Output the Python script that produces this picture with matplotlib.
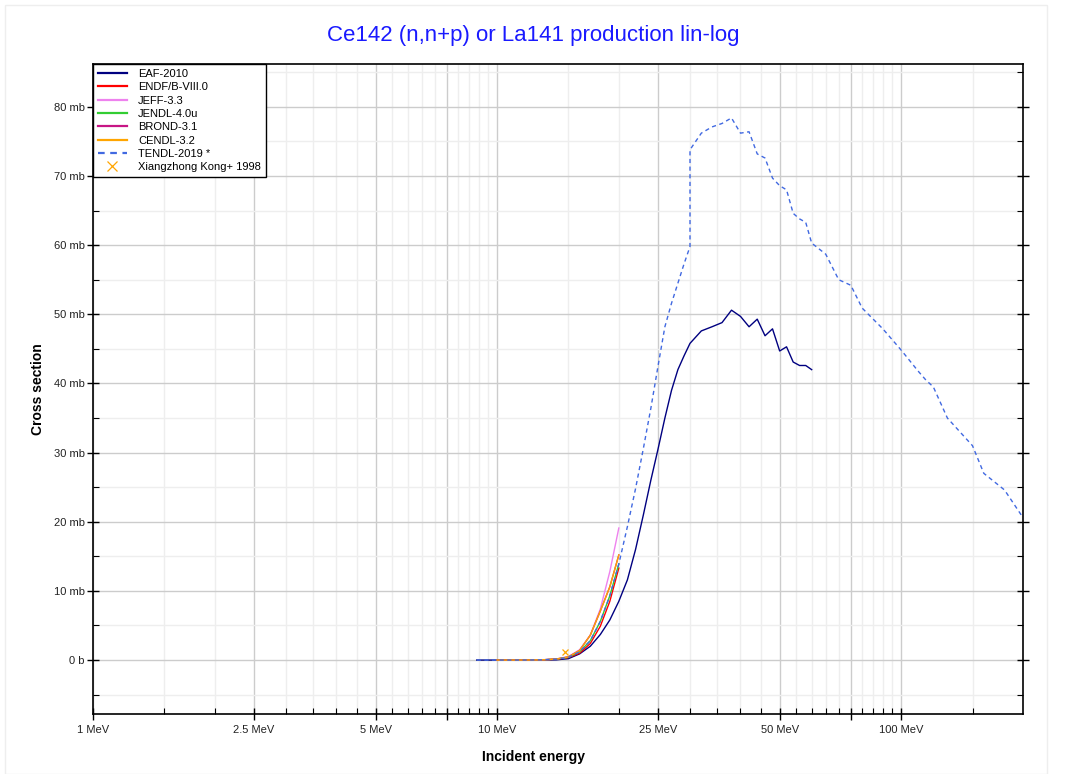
import matplotlib
matplotlib.use("Agg")
import matplotlib.pyplot as plt
from matplotlib.ticker import FixedLocator, FixedFormatter
from matplotlib.patches import Rectangle

plt.rcParams['font.family'] = ['Liberation Sans', 'DejaVu Sans']

# ---- data (energy in MeV, cross section in mb) ----
eaf_e = [8.9, 10, 11, 12, 13, 14, 15, 16, 17, 18, 19, 20, 21, 22, 23, 24, 25, 26, 27, 28, 29, 30,
         32, 34, 36, 38, 40, 42, 44, 46, 48, 50, 52, 54, 56, 58, 60]
eaf_xs = [0, 0, 0, 0, 0.005, 0.03, 0.2, 0.9, 2.0, 3.7, 5.8, 8.5, 11.6, 16.0, 21.0, 26.0, 30.5, 35.0,
          39.0, 42.0, 44.0, 45.8, 47.6, 48.2, 48.8, 50.6, 49.7, 48.2, 49.3, 46.9, 47.9, 44.7, 45.3,
          43.1, 42.6, 42.6, 42.0]

endf_e = [10, 11, 12, 13, 14, 15, 16, 17, 18, 19, 20]
endf_xs = [0, 0, 0.01, 0.03, 0.12, 0.35, 1.0, 2.4, 4.9, 8.5, 13.3]

jeff_e = [10, 11, 12, 13, 14, 15, 16, 17, 18, 19, 20]
jeff_xs = [0, 0, 0.01, 0.05, 0.15, 0.5, 1.5, 3.6, 7.4, 12.8, 19.1]

jendl_e = [10, 11, 12, 13, 14, 15, 16, 17, 18, 19, 20]
jendl_xs = [0, 0, 0.01, 0.04, 0.13, 0.4, 1.2, 2.8, 5.6, 9.3, 13.9]

brond_e = [10, 11, 12, 13, 14, 15, 16, 17, 18, 19, 20]
brond_xs = [0, 0, 0.01, 0.04, 0.15, 0.45, 1.4, 3.6, 7.1, 10.6, 15.2]

cendl_e = [10, 11, 12, 13, 14, 15, 16, 17, 18, 19, 20]
cendl_xs = [0, 0, 0.01, 0.04, 0.15, 0.45, 1.4, 3.6, 7.1, 10.6, 15.2]

tendl_e = [8.9, 10, 11, 12, 13, 14, 15, 16, 17, 18, 19, 20, 21, 22, 23, 24, 25, 26, 27, 28, 29, 30,
           30, 32, 34, 36, 38, 40, 42, 44, 46, 48, 50, 52, 54, 56, 58, 60, 65, 70, 75, 80, 90, 100,
           110, 115, 120, 130, 150, 160, 180, 200]
tendl_xs = [0, 0, 0, 0.01, 0.04, 0.13, 0.4, 1.2, 2.8, 5.6, 9.3, 13.9, 19.3, 24.8, 30.6, 36.4, 42.5,
            48.2, 51.6, 54.5, 57.3, 59.8, 73.8, 76.2, 77.1, 77.6, 78.4, 76.2, 76.4, 73.2, 72.6, 69.7,
            68.6, 68.0, 64.6, 63.8, 63.3, 60.3, 58.7, 55.0, 54.2, 50.9, 47.9, 44.8, 41.8, 40.5, 39.5,
            35.0, 31.0, 27.0, 24.6, 20.6]

exp_e = [14.7]
exp_xs = [1.2]

x_major = [1, 2.5, 5, 7.5, 10, 25, 50, 75, 100]
x_major_labels = ['1 MeV', '2.5 MeV', '5 MeV', '', '10 MeV', '25 MeV', '50 MeV', '', '100 MeV']
x_minor = [1.5, 2, 3, 3.5, 4, 4.5, 5.5, 6, 6.5, 7, 8, 8.5, 9, 9.5, 15, 20, 30, 35, 40, 45,
           55, 60, 65, 70, 80, 85, 90, 95, 150]
y_major = [0, 10, 20, 30, 40, 50, 60, 70, 80]
y_major_labels = ['0 b', '10 mb', '20 mb', '30 mb', '40 mb', '50 mb', '60 mb', '70 mb', '80 mb']
y_minor = [-5, 5, 15, 25, 35, 45, 55, 65, 75, 85]

fig = plt.figure(figsize=(10.67, 7.74), dpi=100)
fig.patches.append(Rectangle((5 / 1067, 0), 1042 / 1067, 769 / 774, transform=fig.transFigure,
                             fill=False, edgecolor='#eeeeee', lw=1.0))
ax = fig.add_axes([93 / 1067, 1 - 714 / 774, 930 / 1067, 650 / 774])

lw = 1.0
ax.plot(eaf_e, eaf_xs, color='#000080', lw=lw, label='EAF-2010')
ax.plot(endf_e, endf_xs, color='#ff0000', lw=lw, label='ENDF/B-VIII.0')
ax.plot(jeff_e, jeff_xs, color='#ee82ee', lw=lw, label='JEFF-3.3')
ax.plot(jendl_e, jendl_xs, color='#32cd32', lw=lw, label='JENDL-4.0u')
ax.plot(brond_e, brond_xs, color='#c71585', lw=lw, label='BROND-3.1')
ax.plot(cendl_e, cendl_xs, color='#ffa500', lw=lw, label='CENDL-3.2')
ax.plot(tendl_e, tendl_xs, color='#4169e1', lw=lw, ls=(0, (3, 2.5)), label='TENDL-2019 *')
ax.plot(exp_e, exp_xs, ls='none', marker='x', color='#ffa500', ms=5, mew=0.9,
        label='Xiangzhong Kong+ 1998')

ax.set_xscale('log')
ax.set_xlim(1, 200)
ax.set_ylim(-7.8, 86.2)

ax.xaxis.set_major_locator(FixedLocator(x_major))
ax.xaxis.set_major_formatter(FixedFormatter(x_major_labels))
ax.xaxis.set_minor_locator(FixedLocator(x_minor))
ax.xaxis.set_minor_formatter(FixedFormatter([''] * len(x_minor)))
ax.yaxis.set_major_locator(FixedLocator(y_major))
ax.yaxis.set_major_formatter(FixedFormatter(y_major_labels))
ax.yaxis.set_minor_locator(FixedLocator(y_minor))

ax.grid(which='major', color='#cccccc', lw=1.0)
ax.grid(which='minor', color='#eeeeee', lw=1.0)
ax.set_axisbelow(True)

ax.tick_params(which='major', direction='inout', length=8, width=1, labelsize=8,
               colors='black', labelcolor='#222222', right=True, top=False, pad=4)
ax.tick_params(which='minor', direction='in', length=4, width=0.8, right=True, top=False)
ax.tick_params(axis='y', which='major', pad=2)
for s in ax.spines.values():
    s.set_linewidth(1.2)

leg = ax.legend(loc='upper left', bbox_to_anchor=(0, 1), borderaxespad=0, fontsize=8,
                frameon=True, fancybox=False, edgecolor='black', framealpha=1,
                labelspacing=0.3, handlelength=2.6, handletextpad=1.0, borderpad=0.45)
leg.get_frame().set_linewidth(1.0)
for h in leg.legend_handles:
    if h.get_linestyle() not in ('None', 'none', ''):
        h.set_linewidth(1.6)
    else:
        h.set_markersize(7)

fig.text(0.5, 1 - 35 / 774, 'Ce142 (n,n+p) or La141 production lin-log', ha='center', va='center',
         fontsize=16, color='#1a1aff')
fig.text(0.5, 1 - 757 / 774, 'Incident energy', ha='center', va='center', fontsize=10,
         fontweight='bold')
fig.text(38 / 1067, 1 - 389 / 774, 'Cross section', ha='center', va='center', fontsize=10,
         fontweight='bold', rotation=90)

fig.savefig('out.png', dpi=100)
